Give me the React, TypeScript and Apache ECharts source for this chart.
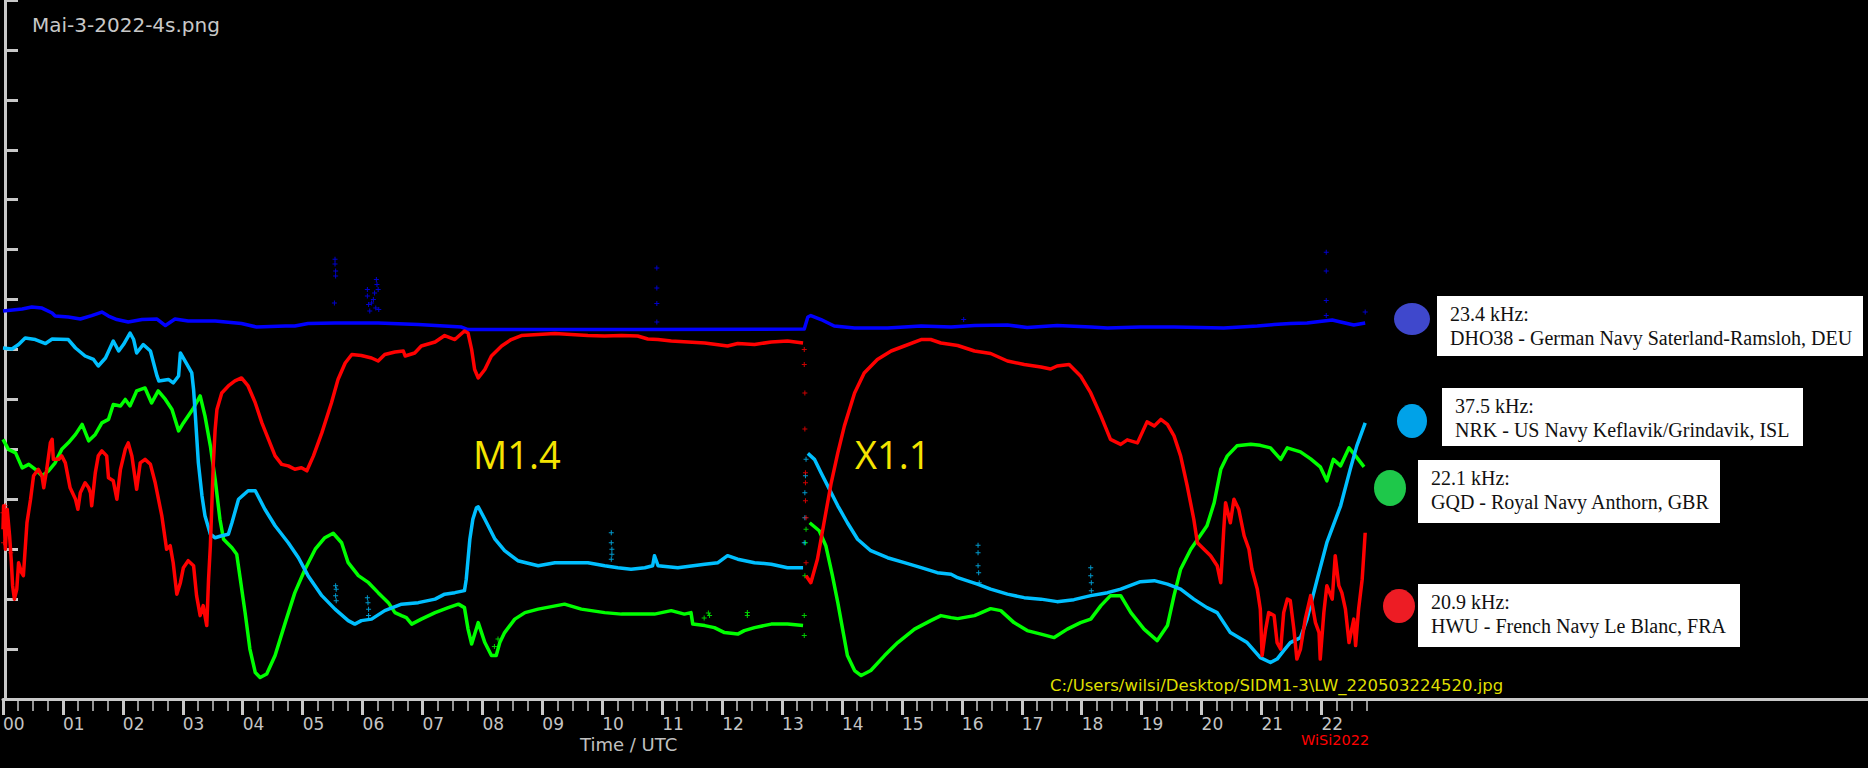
import * as echarts from "echarts";
import { useEffect, useRef } from "react";

type Pt = [number, number | null];

// hour ticks on the time axis (UTC)
const HOUR_TICKS = [0, 1, 2, 3, 4, 5, 6, 7, 8, 9, 10, 11, 12, 13, 14, 15, 16, 17, 18, 19, 20, 21, 22];
const QUARTER_TICKS = HOUR_TICKS.flatMap((h) => [h + 0.25, h + 0.5, h + 0.75]);

// 23.4 kHz DHO38
const DHO38: Pt[] = [
  [0, 7.77], [0.32, 7.81], [0.48, 7.85], [0.65, 7.83], [0.82, 7.73], [0.87, 7.67], [1.09, 7.65],
  [1.29, 7.61], [1.48, 7.68], [1.65, 7.75], [1.76, 7.67], [1.9, 7.6], [2.09, 7.55], [2.32, 7.6],
  [2.57, 7.61], [2.71, 7.48], [2.87, 7.61], [3.09, 7.57], [3.54, 7.57], [3.98, 7.52], [4.23, 7.45],
  [4.71, 7.47], [4.87, 7.47], [5.09, 7.52], [5.54, 7.53], [6.04, 7.53], [6.26, 7.53], [6.93, 7.5],
  [7.65, 7.45], [7.76, 7.4], [10.59, 7.4], [13.37, 7.41], [13.43, 7.65], [13.48, 7.68], [13.65, 7.6],
  [13.87, 7.47], [14.21, 7.43], [14.76, 7.43], [15.32, 7.47], [15.82, 7.45], [16.21, 7.48],
  [16.76, 7.49], [17.09, 7.44], [17.59, 7.48], [18.15, 7.45], [18.43, 7.43], [18.98, 7.45],
  [19.54, 7.45], [20.37, 7.43], [20.93, 7.47], [21.21, 7.5], [21.48, 7.52], [21.76, 7.53],
  [22.18, 7.59], [22.32, 7.55], [22.54, 7.49], [22.73, 7.53],
];
const DHO38_DOTS: Pt[] = [
  [5.54, 8.81], [5.54, 8.71], [5.55, 8.57], [5.55, 8.47], [5.53, 7.93], [6.08, 8.2], [6.08, 8.07],
  [6.1, 7.9], [6.12, 7.77], [6.15, 7.93], [6.18, 8.0], [6.2, 8.13], [6.22, 7.83], [6.23, 8.4],
  [6.24, 8.3], [6.26, 8.2], [6.27, 7.8], [10.91, 8.63], [10.91, 8.23], [10.91, 7.92], [10.91, 7.55],
  [22.08, 8.95], [22.08, 8.57], [22.08, 7.98], [22.08, 7.68], [22.73, 7.75], [16.03, 7.6],
];

// 37.5 kHz NRK
const NRK: Pt[] = [
  [0, 7.03], [0.15, 7.01], [0.26, 7.1], [0.37, 7.23], [0.54, 7.2], [0.71, 7.12], [0.82, 7.21],
  [1.09, 7.2], [1.21, 7.03], [1.37, 6.87], [1.51, 6.8], [1.59, 6.67], [1.71, 6.83], [1.84, 7.17],
  [1.93, 6.97], [2.01, 7.1], [2.12, 7.33], [2.18, 7.2], [2.23, 6.93], [2.34, 7.1], [2.46, 6.97],
  [2.57, 6.47], [2.6, 6.37], [2.76, 6.4], [2.84, 6.33], [2.93, 6.47], [2.96, 6.93], [3.07, 6.7],
  [3.15, 6.53], [3.18, 6.2], [3.21, 5.67], [3.26, 4.73], [3.32, 4.07], [3.37, 3.67], [3.46, 3.3],
  [3.54, 3.23], [3.65, 3.27], [3.76, 3.3], [3.82, 3.53], [3.93, 4.0], [4.09, 4.17], [4.21, 4.17],
  [4.37, 3.8], [4.54, 3.47], [4.76, 3.13], [4.93, 2.83], [5.09, 2.47], [5.32, 2.07], [5.54, 1.8],
  [5.76, 1.57], [5.87, 1.5], [5.98, 1.57], [6.15, 1.6], [6.37, 1.77], [6.65, 1.9], [6.93, 1.93],
  [7.21, 2.0], [7.37, 2.1], [7.54, 2.13], [7.7, 2.17], [7.73, 2.4], [7.79, 3.2], [7.84, 3.6],
  [7.9, 3.83], [7.93, 3.85], [8.04, 3.6], [8.21, 3.2], [8.37, 2.97], [8.59, 2.77], [8.93, 2.67],
  [9.21, 2.73], [9.48, 2.73], [9.76, 2.73], [10.04, 2.67], [10.26, 2.63], [10.48, 2.6], [10.71, 2.63],
  [10.84, 2.67], [10.87, 2.87], [10.93, 2.67], [11.26, 2.63], [11.71, 2.7], [11.93, 2.73],
  [12.09, 2.87], [12.26, 2.8], [12.54, 2.73], [12.82, 2.7], [13.09, 2.63], [13.35, 2.63],
  [13.37, null], [13.43, 4.92], [13.54, 4.8], [13.65, 4.53], [13.79, 4.2], [13.93, 3.87],
  [14.09, 3.53], [14.26, 3.2], [14.48, 2.97], [14.76, 2.83], [15.04, 2.73], [15.32, 2.63],
  [15.59, 2.53], [15.82, 2.5], [15.93, 2.43], [16.26, 2.3], [16.48, 2.2], [16.76, 2.1], [17.04, 2.03],
  [17.32, 2.0], [17.59, 1.95], [17.87, 1.99], [18.15, 2.07], [18.43, 2.13], [18.65, 2.2],
  [18.98, 2.35], [19.21, 2.37], [19.43, 2.3], [19.65, 2.2], [19.87, 2.0], [20.09, 1.83],
  [20.26, 1.73], [20.48, 1.33], [20.76, 1.13], [20.98, 0.83], [21.15, 0.73], [21.26, 0.8],
  [21.37, 0.97], [21.48, 1.13], [21.65, 1.23], [21.76, 1.6], [21.93, 2.4], [22.09, 3.13],
  [22.32, 3.87], [22.48, 4.6], [22.59, 5.07], [22.73, 5.53],
];
const NRK_DOTS: Pt[] = [
  [13.37, 3.13], [13.38, 3.63], [13.38, 4.13], [13.39, 4.47], [13.4, 4.8],
  [10.15, 3.33], [10.15, 3.13], [10.16, 3.0], [10.16, 2.9], [10.15, 2.8],
  [16.27, 3.08], [16.27, 2.93], [16.27, 2.67], [16.28, 2.53], [16.29, 2.33],
  [18.15, 2.63], [18.15, 2.47], [18.16, 2.33], [18.16, 2.17],
  [5.55, 2.27], [5.56, 2.2], [5.55, 2.07], [5.56, 1.97],
  [6.08, 2.03], [6.09, 1.93], [6.1, 1.8], [6.1, 1.67],
];

// 22.1 kHz GQD
const GQD: Pt[] = [
  [0, 5.2], [0.09, 5.0], [0.21, 4.93], [0.32, 4.63], [0.43, 4.7], [0.54, 4.6], [0.65, 4.47],
  [0.76, 4.57], [0.87, 4.73], [0.98, 5.0], [1.09, 5.13], [1.21, 5.3], [1.32, 5.5], [1.43, 5.17],
  [1.54, 5.3], [1.65, 5.53], [1.76, 5.6], [1.84, 5.9], [1.96, 5.87], [2.04, 6.0], [2.12, 5.87],
  [2.23, 6.17], [2.37, 6.23], [2.48, 5.93], [2.59, 6.17], [2.71, 6.0], [2.82, 5.8], [2.93, 5.37],
  [3.01, 5.53], [3.18, 5.83], [3.29, 6.07], [3.37, 5.67], [3.46, 5.07], [3.54, 4.4], [3.62, 3.6],
  [3.68, 3.2], [3.82, 3.03], [3.9, 2.9], [3.96, 2.4], [4.04, 1.73], [4.12, 1.0], [4.21, 0.53],
  [4.29, 0.43], [4.4, 0.5], [4.54, 0.87], [4.71, 1.53], [4.87, 2.13], [5.04, 2.6], [5.21, 3.0],
  [5.37, 3.23], [5.51, 3.32], [5.65, 3.13], [5.76, 2.73], [5.93, 2.47], [6.1, 2.33], [6.26, 2.13],
  [6.43, 1.93], [6.54, 1.73], [6.65, 1.67], [6.73, 1.63], [6.82, 1.5], [6.98, 1.6], [7.21, 1.73],
  [7.43, 1.83], [7.6, 1.9], [7.7, 1.83], [7.76, 1.4], [7.82, 1.1], [7.93, 1.53], [8.04, 1.13],
  [8.15, 0.87], [8.23, 0.87], [8.29, 1.13], [8.37, 1.33], [8.54, 1.6], [8.71, 1.73], [8.93, 1.8],
  [9.37, 1.9], [9.65, 1.8], [10.04, 1.73], [10.32, 1.7], [10.59, 1.7], [10.87, 1.7], [11.15, 1.77],
  [11.37, 1.7], [11.48, 1.73], [11.51, 1.5], [11.71, 1.47], [11.87, 1.43], [12.04, 1.33],
  [12.26, 1.3], [12.37, 1.37], [12.54, 1.43], [12.82, 1.5], [13.09, 1.5], [13.35, 1.47],
  [13.37, null], [13.46, 3.53], [13.62, 3.37], [13.73, 3.07], [13.84, 2.47], [13.93, 1.93],
  [14.01, 1.4], [14.09, 0.87], [14.21, 0.57], [14.32, 0.47], [14.48, 0.57], [14.71, 0.87],
  [14.93, 1.13], [15.21, 1.4], [15.48, 1.57], [15.65, 1.67], [15.82, 1.63], [15.93, 1.61],
  [16.21, 1.67], [16.48, 1.81], [16.65, 1.77], [16.87, 1.53], [17.09, 1.37], [17.32, 1.3],
  [17.54, 1.23], [17.76, 1.4], [17.98, 1.53], [18.15, 1.6], [18.32, 1.87], [18.48, 2.07],
  [18.65, 2.07], [18.82, 1.73], [19.04, 1.4], [19.26, 1.17], [19.43, 1.47], [19.54, 2.07],
  [19.65, 2.6], [19.82, 3.0], [20.09, 3.47], [20.21, 3.93], [20.32, 4.6], [20.43, 4.87],
  [20.59, 5.07], [20.82, 5.1], [20.98, 5.08], [21.15, 5.03], [21.32, 4.8], [21.43, 5.03],
  [21.65, 4.95], [21.82, 4.81], [21.98, 4.65], [22.09, 4.37], [22.2, 4.8], [22.32, 4.67],
  [22.46, 5.03], [22.57, 4.87], [22.71, 4.65],
];
const GQD_DOTS: Pt[] = [
  [13.37, 1.27], [13.37, 1.67], [13.38, 2.47], [13.39, 3.13], [13.4, 3.4],
  [11.7, 1.62], [11.77, 1.72], [11.79, 1.67], [12.42, 1.67], [12.42, 1.73], [8.2, 1.05], [8.26, 1.2],
];

// 20.9 kHz HWU
const HWU: Pt[] = [
  [0, 3.4], [0.01, 3.87], [0.04, 3.0], [0.07, 3.8], [0.11, 3.27], [0.14, 2.73], [0.16, 2.27],
  [0.19, 2.0], [0.23, 2.2], [0.26, 2.73], [0.31, 2.53], [0.34, 2.47], [0.37, 3.0], [0.4, 3.53],
  [0.46, 4.0], [0.51, 4.47], [0.59, 4.6], [0.65, 4.47], [0.68, 4.23], [0.73, 4.6], [0.79, 5.13],
  [0.82, 5.2], [0.84, 4.8], [0.93, 4.8], [0.98, 4.87], [1.04, 4.73], [1.12, 4.23], [1.21, 4.0],
  [1.25, 3.8], [1.29, 4.13], [1.37, 4.33], [1.43, 4.23], [1.46, 4.13], [1.48, 3.87], [1.54, 4.53],
  [1.59, 4.87], [1.65, 4.97], [1.73, 4.87], [1.76, 4.43], [1.84, 4.37], [1.9, 4.0], [1.96, 4.6],
  [2.04, 5.0], [2.09, 5.13], [2.15, 4.87], [2.23, 4.2], [2.29, 4.73], [2.37, 4.8], [2.46, 4.7],
  [2.54, 4.33], [2.65, 3.67], [2.73, 3.0], [2.79, 3.07], [2.84, 2.73], [2.9, 2.1], [2.96, 2.33],
  [3.01, 2.63], [3.09, 2.77], [3.18, 2.67], [3.23, 2.07], [3.29, 1.67], [3.34, 1.87], [3.4, 1.47],
  [3.43, 2.4], [3.46, 3.07], [3.48, 3.73], [3.51, 4.73], [3.54, 5.4], [3.57, 5.8], [3.65, 6.13],
  [3.76, 6.27], [3.87, 6.37], [3.98, 6.43], [4.09, 6.27], [4.21, 5.93], [4.32, 5.53], [4.43, 5.2],
  [4.54, 4.87], [4.65, 4.7], [4.76, 4.67], [4.87, 4.6], [4.98, 4.63], [5.07, 4.57], [5.18, 4.87],
  [5.32, 5.33], [5.48, 5.93], [5.59, 6.4], [5.71, 6.73], [5.82, 6.9], [5.98, 6.88], [6.15, 6.83],
  [6.26, 6.77], [6.37, 6.9], [6.54, 6.95], [6.68, 6.97], [6.71, 6.87], [6.87, 6.93], [6.98, 7.07],
  [7.21, 7.15], [7.37, 7.28], [7.54, 7.2], [7.7, 7.37], [7.76, 7.33], [7.82, 7.0], [7.87, 6.6],
  [7.93, 6.43], [8.04, 6.6], [8.15, 6.87], [8.32, 7.07], [8.48, 7.2], [8.65, 7.28], [8.93, 7.3],
  [9.21, 7.32], [9.48, 7.3], [9.76, 7.28], [10.04, 7.27], [10.32, 7.28], [10.59, 7.27],
  [10.76, 7.21], [10.93, 7.2], [11.15, 7.17], [11.71, 7.13], [12.09, 7.07], [12.26, 7.12],
  [12.54, 7.1], [12.82, 7.15], [13.09, 7.17], [13.35, 7.13], [13.37, null], [13.4, 2.47],
  [13.48, 2.33], [13.59, 2.8], [13.71, 3.6], [13.82, 4.33], [13.93, 4.93], [14.04, 5.47],
  [14.21, 6.13], [14.37, 6.53], [14.59, 6.8], [14.82, 6.97], [15.04, 7.07], [15.32, 7.2],
  [15.48, 7.2], [15.65, 7.13], [15.82, 7.1], [15.93, 7.08], [16.21, 6.97], [16.48, 6.92],
  [16.76, 6.77], [17.04, 6.7], [17.32, 6.65], [17.48, 6.61], [17.59, 6.67], [17.79, 6.7],
  [17.98, 6.47], [18.15, 6.13], [18.32, 5.67], [18.48, 5.2], [18.65, 5.1], [18.76, 5.19],
  [18.93, 5.13], [19.09, 5.55], [19.21, 5.47], [19.32, 5.6], [19.43, 5.5], [19.54, 5.27],
  [19.65, 4.87], [19.76, 4.27], [19.87, 3.6], [19.93, 3.13], [20.04, 3.0], [20.15, 2.87],
  [20.26, 2.67], [20.32, 2.33], [20.37, 3.4], [20.4, 3.93], [20.48, 3.53], [20.54, 4.0],
  [20.62, 3.8], [20.71, 3.27], [20.79, 3.0], [20.84, 2.6], [20.93, 2.2], [20.98, 1.8], [21.01, 0.87],
  [21.07, 1.4], [21.12, 1.73], [21.21, 1.67], [21.26, 1.13], [21.32, 1.0], [21.37, 1.73],
  [21.43, 2.0], [21.48, 1.97], [21.54, 1.4], [21.59, 0.8], [21.65, 1.0], [21.73, 1.6], [21.82, 2.07],
  [21.9, 1.53], [21.96, 1.33], [21.98, 0.8], [22.04, 1.73], [22.09, 2.27], [22.18, 2.0],
  [22.23, 2.87], [22.29, 2.27], [22.34, 2.13], [22.4, 1.8], [22.46, 1.13], [22.54, 1.6],
  [22.57, 1.07], [22.62, 1.8], [22.68, 2.4], [22.73, 3.33],
];
const HWU_DOTS: Pt[] = [
  [13.37, 7.0], [13.37, 6.7], [13.38, 6.13], [13.38, 5.41], [13.39, 4.53], [13.39, 4.33],
  [13.39, 3.97], [13.4, 3.63], [13.4, 2.73],
  [0.0, 3.73], [0.01, 3.13], [0.04, 3.87], [0.08, 3.33], [0.13, 2.93],
];

const STATIONS = [
  { name: "DHO38", color: "#0000ff", line: DHO38, dots: DHO38_DOTS },
  { name: "GQD", color: "#00ff00", line: GQD, dots: GQD_DOTS },
  { name: "NRK", color: "#00bfff", line: NRK, dots: NRK_DOTS },
  { name: "HWU", color: "#ff0000", line: HWU, dots: HWU_DOTS },
];

const LEGEND_FREQS = ["23.4 kHz:", "37.5 kHz:", "22.1 kHz:", "20.9 kHz:"];
const LEGEND_NAMES = [
  "DHO38 - German Navy Saterland-Ramsloh, DEU",
  "NRK - US Navy Keflavik/Grindavik, ISL",
  "GQD - Royal Navy Anthorn, GBR",
  "HWU - French Navy Le Blanc, FRA",
];
const LEGEND_BLOBS = ["#3f48cc", "#00a2e8", "#1ec84a", "#ed1c24"];

const AXIS_GRAY = "#c8c8c8";
const PLUS = "path://M2,0H3V5H2ZM0,2H5V3H0Z";

export default function App() {
  const chartRef = useRef<HTMLDivElement | null>(null);

  useEffect(() => {
    if (!chartRef.current) return;
    const chart = echarts.init(chartRef.current, undefined, { renderer: "svg" });

    // legend box layout: [boxX, boxY, boxW, boxH, textX, blobX, blobY, rx, ry]
    const boxes = [
      [1437, 296, 426, 60, 1450, 1412, 319, 18, 16],
      [1442, 388, 361, 58, 1455, 1412, 421, 15, 17],
      [1418, 460, 302, 63, 1431, 1390, 488, 16, 18],
      [1418, 584, 322, 63, 1431, 1399, 606, 16, 17],
    ];
    const serif = '20px "Liberation Serif", "DejaVu Serif", serif';
    const legendGraphics = boxes.flatMap((b, i) => [
      { type: "rect", shape: { x: b[0], y: b[1], width: b[2], height: b[3] }, style: { fill: "#ffffff" } },
      { type: "ellipse", shape: { cx: b[5], cy: b[6], rx: b[7], ry: b[8] }, style: { fill: LEGEND_BLOBS[i] } },
      {
        type: "text", x: b[4], y: b[1] + 18,
        style: { text: LEGEND_FREQS[i], fill: "#111", font: serif, align: "left", verticalAlign: "middle" },
      },
      {
        type: "text", x: b[4], y: b[1] + 42,
        style: { text: LEGEND_NAMES[i], fill: "#111", font: serif, align: "left", verticalAlign: "middle" },
      },
    ]);

    const sans = (size: number) => `${size}px "DejaVu Sans", sans-serif`;

    const option: echarts.EChartsOption = {
      animation: false,
      backgroundColor: "#000000",
      grid: { left: 1, right: 0, top: 0, bottom: 69, containLabel: false },
      xAxis: [
        {
          type: "value",
          position: "bottom",
          min: 0,
          max: 31.12,
          axisLine: { show: true, onZero: false, lineStyle: { color: AXIS_GRAY, width: 3 } },
          axisTick: {
            show: true,
            customValues: HOUR_TICKS,
            length: 16,
            lineStyle: { color: AXIS_GRAY, width: 3 },
          },
          axisLabel: {
            customValues: HOUR_TICKS,
            formatter: (v: number) => (v < 10 ? "0" : "") + v,
            align: "left",
            margin: 16,
            color: "#c4c4c4",
            fontFamily: "DejaVu Sans",
            fontSize: 17,
          },
          splitLine: { show: false },
        },
        {
          type: "value",
          position: "bottom",
          offset: 0,
          min: 0,
          max: 31.12,
          axisLine: { show: false, onZero: false },
          axisTick: {
            show: true,
            customValues: QUARTER_TICKS,
            length: 12,
            lineStyle: { color: AXIS_GRAY, width: 1.5 },
          },
          axisLabel: { show: false },
          splitLine: { show: false },
        },
      ],
      yAxis: {
        type: "value",
        min: 0,
        max: 14,
        interval: 1,
        offset: -2,
        axisLine: { show: true, lineStyle: { color: AXIS_GRAY, width: 3 } },
        axisTick: { show: true, inside: true, length: 13, lineStyle: { color: AXIS_GRAY, width: 3 } },
        axisLabel: { show: false },
        splitLine: { show: false },
      },
      series: [
        ...STATIONS.map((s) => ({
          name: s.name,
          type: "line" as const,
          data: s.line.map(([h, v]) => [h, v ?? "-"]),
          symbol: "none",
          connectNulls: false,
          lineStyle: { color: s.color, width: 3.5, join: "round" as const },
          itemStyle: { color: s.color },
        })),
        ...STATIONS.map((s) => ({
          name: s.name + " dots",
          type: "scatter" as const,
          data: s.dots,
          symbol: PLUS,
          symbolSize: 5,
          itemStyle: { color: s.color },
        })),
      ],
      graphic: [
        {
          type: "text", x: 32, y: 25,
          style: { text: "Mai-3-2022-4s.png", fill: AXIS_GRAY, font: sans(20), verticalAlign: "middle" },
        },
        {
          type: "text", x: 473, y: 454,
          style: { text: "M1.4", fill: "#f5e400", font: '38px "Open Sans", sans-serif', verticalAlign: "middle" },
        },
        {
          type: "text", x: 855, y: 454,
          style: { text: "X1.1", fill: "#f5e400", font: '38px "Open Sans", sans-serif', verticalAlign: "middle" },
        },
        {
          type: "text", x: 1050, y: 685,
          style: {
            text: "C:/Users/wilsi/Desktop/SIDM1-3\\LW_220503224520.jpg",
            fill: "#dede00",
            font: sans(16.5),
            verticalAlign: "middle",
          },
        },
        {
          type: "text", x: 580, y: 744,
          style: { text: "Time / UTC", fill: "#c0c0c0", font: sans(18), verticalAlign: "middle" },
        },
        {
          type: "text", x: 1301, y: 740,
          style: { text: "WiSi2022", fill: "#ff0000", font: sans(14.5), verticalAlign: "middle" },
        },
        ...legendGraphics,
      ],
    };

    chart.setOption(option);
    return () => {
      chart.dispose();
    };
  }, []);

  return (
    <div
      ref={chartRef}
      style={{ position: "fixed", left: 0, top: 0, width: 1868, height: 768, background: "#000" }}
    />
  );
}
